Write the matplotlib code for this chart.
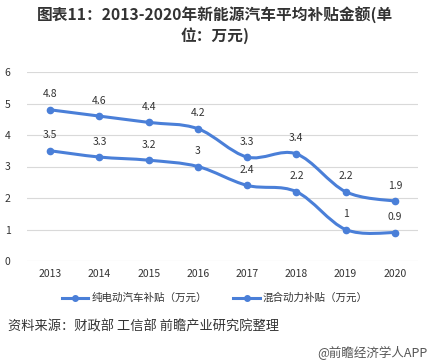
import numpy as np
import matplotlib
matplotlib.use("Agg")
import matplotlib.pyplot as plt
from matplotlib.path import Path
from matplotlib.patches import PathPatch
from matplotlib.lines import Line2D

plt.rcParams['font.family'] = ['Noto Sans CJK SC', 'DejaVu Sans']

years = ['2013', '2014', '2015', '2016', '2017', '2018', '2019', '2020']
ev_subsidy = [4.8, 4.6, 4.4, 4.2, 3.3, 3.4, 2.2, 1.9]
phev_subsidy = [3.5, 3.3, 3.2, 3.0, 2.4, 2.2, 1.0, 0.9]
ev_labels = ['4.8', '4.6', '4.4', '4.2', '3.3', '3.4', '2.2', '1.9']
phev_labels = ['3.5', '3.3', '3.2', '3', '2.4', '2.2', '1', '0.9']
series_names = ['纯电动汽车补贴（万元）', '混合动力补贴（万元）']

color = '#4A7FD8'

fig = plt.figure(figsize=(4.3, 3.64), dpi=100)
ax = fig.add_axes([27/430, 1 - 261/364, (418-27)/430, (261-72)/364])

def smooth_path(x, y, t=1/6):
    x = np.asarray(x, float); y = np.asarray(y, float)
    verts = [(x[0], y[0])]
    codes = [Path.MOVETO]
    n = len(x)
    for i in range(n - 1):
        p0 = (x[max(i-1, 0)], y[max(i-1, 0)])
        p1 = (x[i], y[i]); p2 = (x[i+1], y[i+1])
        p3 = (x[min(i+2, n-1)], y[min(i+2, n-1)])
        c1 = (p1[0] + (p2[0]-p0[0])*t, p1[1] + (p2[1]-p0[1])*t)
        c2 = (p2[0] - (p3[0]-p1[0])*t, p2[1] - (p3[1]-p1[1])*t)
        verts += [c1, c2, p2]
        codes += [Path.CURVE4]*3
    return Path(verts, codes)

xs = np.arange(len(years))
for vals, labs in [(ev_subsidy, ev_labels), (phev_subsidy, phev_labels)]:
    ax.add_patch(PathPatch(smooth_path(xs, vals), fill=False, edgecolor=color, lw=2.2,
                           capstyle='round', joinstyle='round', zorder=3))
    ax.plot(xs, vals, 'o', color=color, ms=4.5, zorder=4)
    for xi, v, l in zip(xs, vals, labs):
        ax.annotate(l, (xi, v), xytext=(0, 7.5), textcoords='offset points',
                    ha='center', va='bottom', fontsize=7.5, color='#333333')

ax.set_xlim(-0.47, 7.47)
ax.set_ylim(0, 6)
ax.set_yticks(range(0, 7))
ax.set_xticks(xs)
ax.set_xticklabels(years)
ax.grid(axis='y', color='#d9d9d9', lw=0.8)
ax.set_axisbelow(True)
for s in ax.spines.values():
    s.set_visible(False)
ax.tick_params(length=0, labelsize=7.5, colors='#333333', pad=6)
ax.tick_params(axis='y', pad=12)

handles = [Line2D([0], [0], color=color, lw=2.2, marker='o', ms=4) for _ in series_names]
fig.legend(handles, series_names, loc='center', bbox_to_anchor=(0.5, 1 - 298/364),
           ncol=2, frameon=False, fontsize=7.6, handlelength=2.5, columnspacing=2.5,
           handletextpad=0.3, labelcolor='#333333')

fig.text(0.5, 1 - 16/364, '图表11：2013-2020年新能源汽车平均补贴金额(单', ha='center', va='center',
         fontsize=11.3, fontweight='bold', color='#333333')
fig.text(0.5, 1 - 36/364, '位：万元)', ha='center', va='center',
         fontsize=11.3, fontweight='bold', color='#333333')
fig.text(8/430, 1 - 327/364, '资料来源：财政部 工信部 前瞻产业研究院整理', ha='left', va='center',
         fontsize=9.5, color='#333333')
fig.text(427/430, 1 - 353/364, '@前瞻经济学人APP', ha='right', va='center',
         fontsize=9, color='#555555')

fig.savefig('out.png', dpi=100)
